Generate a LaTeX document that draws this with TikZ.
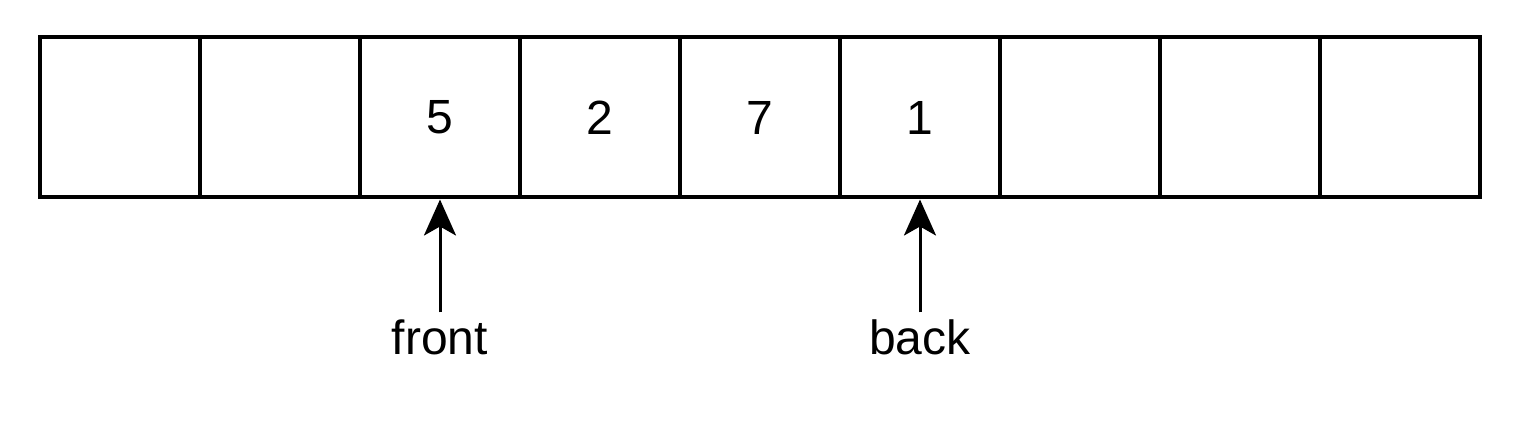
\documentclass[tikz,border=0pt]{standalone}
\usepackage{fontspec}
\setmainfont{Liberation Sans}
\usetikzlibrary{arrows.meta}
\tikzset{
  cell/.style={draw, line width=2pt, minimum width=80pt, minimum height=80pt, font=\fontsize{24}{28}\selectfont},
  ptr/.style={-{Stealth[width=16pt,length=18pt,inset=4.5pt]}, line width=1.5pt},
  lbl/.style={font=\fontsize{24}{28}\selectfont}
}
\begin{document}
\begin{tikzpicture}[x=0.5pt,y=-0.5pt]
      \useasboundingbox (0,0) rectangle (1528,444);
      \foreach \v [count=\i from 0] in {,,5,2,7,1,,,} {
        \node[cell] (c\i) at (120+160*\i, 117.5) {\v};
      }
      \node[lbl] (front) at (440, 337) {front};
      \node[lbl] (back) at (920, 337) {back};
      \draw[ptr] (front.north) -- (c2.south);
      \draw[ptr] (back.north) -- (c5.south);
    \end{tikzpicture}
\end{document}
